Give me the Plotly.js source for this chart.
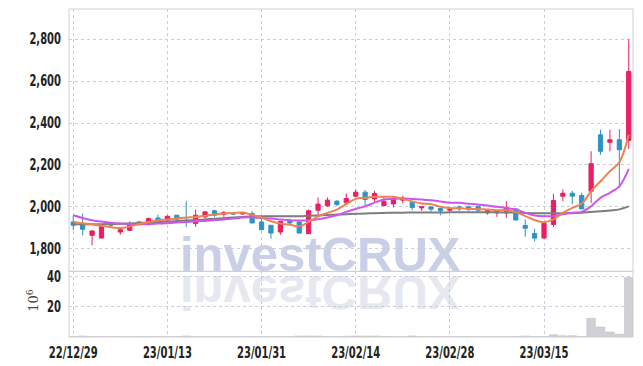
<!DOCTYPE html>
<html><head><meta charset="utf-8">
<script src="https://cdn.plot.ly/plotly-3.0.1.min.js"></script>
<style>
html,body{margin:0;padding:0;background:#fff;}
#wrap{position:relative;width:643px;height:366px;overflow:hidden;}
.wm{position:absolute;left:180px;font-family:"Liberation Sans",Arial,sans-serif;font-weight:bold;font-size:49px;line-height:49px;white-space:nowrap;}
#wm1{top:229.5px;color:#c9cfe6;}
#wm2{top:233.5px;color:#e5e7f1;transform:scaleY(-1);transform-origin:50% 41.5px;}
#chart{position:absolute;left:0;top:0;width:643px;height:366px;}
</style></head>
<body><div id="wrap"><div class="wm" id="wm1">investCRUX</div><div class="wm" id="wm2">investCRUX</div><div id="chart"></div></div>
<script>
const dates = ['22/12/29','23/01/02','23/01/03','23/01/04','23/01/05','23/01/06','23/01/09','23/01/10','23/01/11','23/01/12',
'23/01/13','23/01/16','23/01/17','23/01/18','23/01/19','23/01/20','23/01/25','23/01/26','23/01/27','23/01/30',
'23/01/31','23/02/01','23/02/02','23/02/03','23/02/06','23/02/07','23/02/08','23/02/09','23/02/10','23/02/13',
'23/02/14','23/02/15','23/02/16','23/02/17','23/02/20','23/02/21','23/02/22','23/02/23','23/02/24','23/02/27',
'23/02/28','23/03/02','23/03/03','23/03/06','23/03/07','23/03/08','23/03/09','23/03/10','23/03/13','23/03/14',
'23/03/15','23/03/16','23/03/17','23/03/20','23/03/21','23/03/22','23/03/23','23/03/24','23/03/27','23/03/28'];
const openP = [1928,1917,1864,1851,1917,1880,1888,1928,1915,1947,
1936,1960,1936,1920,1952,1981,1965,1970,1966,1968,
1928,1912,1880,1933,1928,1872,1984,2005,2027,2019,
2051,2070,2038,2006,2014,2032,2022,1995,2000,1992,
1984,2000,2000,2003,1971,1971,1971,1990,1911,1873,
1851,1916,2051,2065,2054,2075,2344,2308,2320,2317];
const highP = [1960,1968,1888,1911,1925,1904,1931,1933,1949,1963,
1960,1960,2027,1987,1981,1987,1981,1973,1976,1981,
1944,1912,1931,1944,1933,1987,2045,2045,2032,2064,
2083,2080,2077,2048,2048,2053,2022,2000,2000,1992,
1990,2006,2006,2003,1984,1987,2027,1995,1940,1895,
1921,2062,2083,2077,2067,2265,2368,2368,2371,2800];
const lowP = [1888,1864,1816,1849,1900,1867,1886,1910,1912,1923,
1928,1923,1904,1904,1944,1952,1952,1960,1962,1923,
1888,1848,1867,1917,1872,1872,1960,2000,2003,2013,
2048,2008,2024,2003,1997,2016,1984,1981,1976,1960,
1971,1979,1979,1975,1963,1952,1948,1937,1857,1835,
1851,1905,2027,2013,1990,2019,2249,2265,2090,2276];
const closeP = [1912,1893,1885,1909,1913,1891,1917,1917,1944,1936,
1955,1941,1928,1960,1976,1960,1973,1966,1970,1923,
1891,1875,1931,1923,1875,1981,2013,2032,2011,2040,
2070,2035,2064,2026,2038,2042,1997,2000,1989,1981,
1990,1990,1987,1984,1984,1978,1995,1937,1898,1851,
1921,2030,2065,2051,1990,2206,2265,2320,2273,2646];
const maShort = [1928,1922,1917,1910,1903,1899,1906,1918,1928,1936,
1940,1945,1949,1952,1958,1963,1968,1971,1973,1962,
1949,1931,1920,1915,1907,1928,1955,1971,1987,2013,
2038,2043,2048,2048,2048,2038,2026,2016,2013,2000,
1994,1994,1990,1990,1987,1984,1984,1975,1956,1937,
1927,1940,1971,1995,2016,2075,2122,2170,2213,2344];
const maMid = [1960,1947,1936,1930,1924,1920,1918,1917,1918,1920,
1922,1925,1928,1931,1933,1936,1940,1944,1949,1950,
1947,1944,1940,1936,1935,1936,1941,1949,1960,1976,
1990,2003,2020,2035,2038,2040,2038,2035,2031,2026,
2020,2019,2015,2011,2006,2000,1995,1987,1972,1959,
1955,1956,1965,1972,1976,2003,2043,2067,2098,2181];
const maLong = [1917,1917,1917,1917,1918,1919,1921,1923,1925,1928,
1930,1932,1935,1937,1940,1943,1946,1949,1952,1955,
1955,1955,1955,1955,1955,1957,1959,1961,1963,1965,
1967,1968,1970,1971,1972,1972,1973,1973,1973,1973,
1974,1974,1974,1974,1974,1974,1973,1972,1971,1970,
1970,1970,1970,1970,1972,1975,1979,1983,1988,2002];
const volume = [0.2,0.7,0.2,0.2,0.2,0.2,0.2,0.2,0.2,0.2,
0.2,0.2,0.7,0.2,0.2,0.2,0.2,0.2,0.2,0.2,
0.2,0.2,0.2,0.2,0.7,0.7,0.7,0.2,0.2,0.5,
0.7,0.7,0.7,0.4,0.2,0.2,0.7,0.2,0.2,0.2,
0.2,0.2,0.2,0.2,0.2,0.2,0.2,0.2,0.7,0.2,
0.3,1.5,0.8,0.8,0.3,12.4,6.6,3.3,1.8,39.5];
const xTickDates = ['22/12/29','23/01/13','23/01/31','23/02/14','23/02/28','23/03/15'];
const priceTicks = [1800,2000,2200,2400,2600,2800];
const volTicks = [20,40];

const tickFont = {family:'"DejaVu Sans Condensed","DejaVu Sans",sans-serif', size:15, color:'#222', weight:'bold'};
const gridC = '#cbcbdf';

const traces = [
  {type:'candlestick', x:dates, open:openP, high:highP, low:lowP, close:closeP, xaxis:'x', yaxis:'y',
   increasing:{line:{color:'#e91e63',width:1}, fillcolor:'#e91e63'},
   decreasing:{line:{color:'#2e93c7',width:1}, fillcolor:'#2e93c7'},
   whiskerwidth:0, hoverinfo:'skip'},
  {type:'scatter', mode:'lines', x:dates, y:maLong, line:{color:'#7d7d7d',width:2,shape:'spline'}, yaxis:'y', hoverinfo:'skip'},
  {type:'scatter', mode:'lines', x:dates, y:maMid, line:{color:'#cc55ee',width:2,shape:'spline'}, yaxis:'y', hoverinfo:'skip'},
  {type:'scatter', mode:'lines', x:dates, y:maShort, line:{color:'#ef8350',width:2,shape:'spline'}, yaxis:'y', hoverinfo:'skip'},
  {type:'bar', x:dates, y:volume, yaxis:'y2', marker:{color:'rgba(200,200,208,0.85)', line:{color:'#b8b8c0',width:0.5}}, hoverinfo:'skip'}
];

const layout = {
  width:643, height:366,
  margin:{l:69, r:10, t:9, b:29},
  paper_bgcolor:'rgba(0,0,0,0)', plot_bgcolor:'rgba(0,0,0,0)',
  showlegend:false, boxgap:0.36, bargap:0.1,
  xaxis:{type:'category', range:[-0.45,59.45], anchor:'y2', rangeslider:{visible:false},
    tickvals:xTickDates, ticktext:xTickDates, showgrid:true, gridcolor:gridC, griddash:'dot', gridwidth:1,
    ticks:'outside', ticklen:2, tickcolor:'rgba(0,0,0,0)', tickfont:tickFont, zeroline:false, showline:false},
  yaxis:{domain:[0.2,1], range:[1692,2944], tickvals:priceTicks, tickformat:',d',
    showgrid:true, gridcolor:gridC, griddash:'dot', gridwidth:1, zeroline:false, showline:false,
    ticks:'outside', ticklen:4, tickcolor:'rgba(0,0,0,0)', tickfont:tickFont},
  yaxis2:{domain:[0,0.2], range:[0,43.6], tickvals:volTicks,
    showgrid:true, gridcolor:gridC, griddash:'dot', gridwidth:1, zeroline:false, showline:false,
    ticks:'outside', ticklen:4, tickcolor:'rgba(0,0,0,0)', tickfont:tickFont},
  annotations:[
    {text:'10<sup>6</sup>', xref:'paper', yref:'paper', x:-0.064, y:0.113, textangle:-90, showarrow:false,
     xanchor:'center', yanchor:'middle', font:{family:'"DejaVu Serif",serif', size:13, color:'#444'}}
  ],
  shapes:[
    {type:'rect', xref:'paper', yref:'paper', x0:0, x1:1, y0:0.2, y1:1, line:{color:'#cfcfcf',width:1}},
    {type:'rect', xref:'paper', yref:'paper', x0:0, x1:1, y0:0, y1:0.2, line:{color:'#cfcfcf',width:1}}
  ]
};
Plotly.newPlot('chart', traces, layout, {displayModeBar:false, staticPlot:true}).then(function(){
  document.querySelectorAll('.xtick text, .ytick text, .y2tick text').forEach(function(t){
    var w = t.getComputedTextLength();
    if (w > 0) {
      t.setAttribute('textLength', (w*0.74).toFixed(2));
      t.setAttribute('lengthAdjust', 'spacingAndGlyphs');
    }
  });
});
</script></body></html>
